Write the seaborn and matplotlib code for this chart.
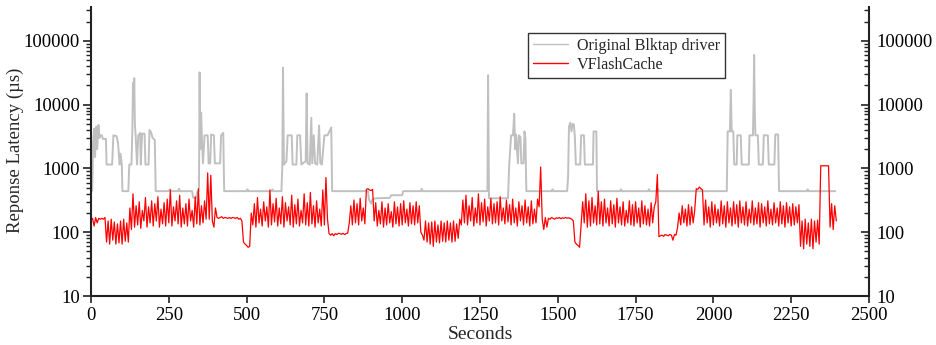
import numpy as np
import pandas as pd
import matplotlib
matplotlib.use("Agg")
import matplotlib.pyplot as plt
import seaborn as sns
from matplotlib.ticker import LogLocator, FixedLocator, NullFormatter, FixedFormatter

# ---------------- data ----------------
# Original Blktap driver: vertices (seconds, latency us)
blk_t = [0, 4, 7, 10, 13, 17, 20, 24, 27, 30, 35, 38, 48, 50, 68, 72, 82, 87, 92, 95, 99, 101,
         120, 123, 130, 133, 135, 137, 139, 141, 144, 148, 152, 158, 160, 164, 172, 175, 185, 188,
         193, 198, 205, 208, 250, 253, 260, 280, 283, 286, 325, 328, 338, 342, 347, 349, 351, 354,
         357, 360, 365, 375, 378, 383, 386, 395, 398, 415, 418, 425, 428, 500, 503, 506, 580, 583,
         586, 612, 615, 617, 620, 628, 632, 645, 648, 660, 663, 672, 676, 690, 693, 696, 703, 708,
         711, 716, 720, 727, 733, 737, 742, 750, 760, 765, 772, 775, 890, 893, 900, 905, 915, 960,
         965, 1000, 1003, 1060, 1063, 1066, 1270, 1274, 1276, 1279, 1340, 1344, 1350, 1356, 1360,
         1363, 1366, 1372, 1375, 1380, 1383, 1390, 1393, 1396, 1399, 1480, 1483, 1486, 1530, 1533,
         1536, 1540, 1544, 1548, 1552, 1555, 1558, 1572, 1575, 1584, 1587, 1613, 1615, 1624, 1626,
         1700, 1703, 1706, 1790, 1793, 1796, 1820, 1823, 1826, 2043, 2046, 2053, 2056, 2059, 2064,
         2067, 2075, 2077, 2088, 2091, 2100, 2114, 2116, 2127, 2129, 2131, 2133, 2135, 2143, 2146,
         2159, 2162, 2175, 2178, 2196, 2199, 2208, 2211, 2300, 2303, 2306, 2392]
blk_v = [440, 450, 2500, 4200, 1500, 4500, 2000, 4800, 3000, 3300, 3300, 2900, 2900, 1150, 1150,
         3300, 3200, 2500, 1150, 1700, 1150, 440, 440, 1150, 1150, 4000, 22000, 10000, 26000, 5000,
         3000, 1150, 3300, 3600, 1150, 3500, 3500, 1150, 1150, 4000, 3700, 3000, 2800, 440, 440,
         470, 440, 440, 480, 440, 440, 350, 340, 440, 440, 32000, 2000, 7500, 2500, 1200, 3300,
         3300, 1200, 1200, 3400, 3300, 1200, 1200, 3300, 3600, 440, 440, 470, 440, 440, 470, 440,
         440, 1150, 38000, 1150, 1300, 3300, 3300, 1150, 1150, 3300, 3300, 1150, 1300, 15000, 1200,
         1150, 6200, 1200, 3300, 1200, 1150, 4700, 1200, 1150, 3300, 3300, 3700, 4400, 440, 440,
         330, 280, 330, 340, 345, 380, 380, 440, 440, 480, 440, 440, 440, 29000, 340, 340, 1150,
         3300, 3300, 7200, 2000, 3400, 1200, 3300, 3100, 1200, 1200, 3800, 3000, 440, 440, 470,
         440, 440, 700, 4500, 5200, 3800, 5000, 4800, 3000, 1150, 1150, 3300, 3300, 1150, 1150,
         3800, 3800, 440, 440, 470, 440, 440, 470, 440, 440, 470, 440, 440, 3800, 3800, 17000,
         3800, 3800, 1150, 1150, 3300, 3300, 1150, 1150, 1150, 3300, 3300, 10000, 60000, 8000,
         3300, 3300, 1150, 1150, 3300, 3300, 1150, 1150, 3400, 3400, 440, 440, 470, 440, 440]

# VFlashCache: latency every 5 seconds from 0 to 2395 s
vfc_t = list(range(0, 2400, 5))
vfc_v = [
    155, 165, 125, 170, 140, 165, 160, 165, 160, 170,      # 0-45
    70, 150, 65, 160, 75, 145, 65, 135, 68, 150,           # 50-95
    65, 160, 72, 140, 70, 240, 110, 400, 120, 260,         # 100-145
    130, 300, 115, 220, 150, 350, 120, 250, 140, 310,      # 150-195
    125, 280, 150, 360, 120, 230, 135, 290, 125, 330,      # 200-245
    140, 460, 125, 250, 150, 310, 135, 380, 120, 240,      # 250-295
    135, 280, 125, 330, 150, 220, 120, 360, 135, 480,      # 300-345
    130, 260, 140, 310, 160, 850, 160, 780, 150, 120,      # 350-395
    240, 170, 165, 170, 175, 165, 170, 168, 165, 170,      # 400-445
    165, 170, 168, 165, 170, 160, 165, 150, 70, 65,        # 450-495
    62, 58, 60, 200, 130, 280, 120, 350, 140, 230,         # 500-545
    125, 300, 150, 250, 120, 460, 130, 280, 145, 340,      # 550-595
    125, 240, 135, 360, 120, 290, 150, 250, 130, 380,      # 600-645
    120, 270, 135, 330, 125, 220, 140, 400, 130, 290,      # 650-695
    125, 420, 135, 260, 120, 310, 140, 230, 125, 460,      # 700-745
    130, 720, 160, 95, 90, 95, 88, 95, 92, 96,             # 750-795
    95, 93, 96, 92, 95, 97, 140, 260, 130, 320,            # 800-845
    140, 280, 130, 340, 150, 240, 135, 470, 480, 460,      # 850-895
    450, 470, 150, 290, 125, 220, 135, 300, 120, 240,      # 900-945
    130, 280, 140, 210, 120, 300, 135, 250, 125, 280,      # 950-995
    130, 310, 140, 230, 125, 290, 135, 260, 130, 300,      # 1000-1045
    140, 260, 100, 90, 75, 150, 70, 140, 65, 145,          # 1050-1095
    60, 150, 70, 130, 68, 150, 72, 140, 70, 150,           # 1100-1145
    75, 140, 70, 150, 72, 135, 80, 160, 130, 320,          # 1150-1195
    140, 380, 130, 260, 150, 350, 125, 240, 140, 400,      # 1200-1245
    130, 290, 145, 330, 125, 250, 150, 340, 135, 280,      # 1250-1295
    140, 300, 130, 360, 150, 240, 135, 320, 145, 270,      # 1300-1345
    130, 330, 140, 240, 125, 300, 150, 260, 130, 320,      # 1350-1395
    140, 250, 125, 310, 135, 230, 140, 330, 250, 1050,     # 1400-1445
    160, 110, 170, 120, 165, 160, 170, 165, 160, 168,      # 1450-1495
    165, 170, 163, 168, 165, 170, 166, 168, 165, 160,      # 1500-1545
    150, 70, 65, 62, 58, 130, 300, 140, 400, 120,          # 1550-1595
    310, 125, 350, 140, 260, 130, 440, 135, 300, 125,      # 1600-1645
    330, 140, 240, 125, 310, 135, 270, 120, 340, 140,      # 1650-1695
    250, 130, 300, 125, 220, 140, 310, 130, 270, 125,      # 1700-1745
    300, 140, 240, 120, 310, 135, 260, 130, 230, 125,      # 1750-1795
    290, 140, 250, 300, 800, 85, 88, 90, 86, 92,           # 1800-1845
    90, 88, 92, 90, 75, 92, 90, 120, 200, 130,             # 1850-1895
    260, 140, 230, 125, 270, 130, 250, 140, 220, 480,      # 1900-1945
    470, 510, 480, 460, 130, 320, 140, 250, 120, 300,      # 1950-1995
    130, 270, 140, 230, 125, 310, 135, 260, 120, 300,      # 2000-2045
    140, 240, 125, 300, 135, 270, 120, 310, 140, 250,      # 2050-2095
    130, 300, 125, 230, 140, 310, 130, 240, 135, 290,      # 2100-2145
    120, 280, 140, 250, 125, 310, 135, 230, 130, 290,      # 2150-2195
    140, 240, 125, 300, 135, 260, 120, 290, 140, 250,      # 2200-2245
    125, 280, 130, 250, 140, 270, 60, 150, 55, 160,        # 2250-2295
    65, 140, 60, 160, 55, 150, 70, 155, 65, 1100,          # 2300-2345
    1100, 1100, 1100, 1100, 1100, 120, 280, 110, 260, 150, # 2350-2395
]

series_names = ["Original Blktap driver", "VFlashCache"]
series_colors = ["#c0c0c0", "#ff0000"]
y_ticks = [10, 100, 1000, 10000, 100000]
y_tick_labels = ["10", "100", "1000", "10000", "100000"]
x_ticks = [0, 250, 500, 750, 1000, 1250, 1500, 1750, 2000, 2250, 2500]

# ---------------- plotting ----------------
sns.set_style("ticks")
plt.rcParams["font.family"] = ["Liberation Serif", "DejaVu Serif"]

df = pd.concat([
    pd.DataFrame({"Seconds": blk_t, "Latency": blk_v, "Series": series_names[0]}),
    pd.DataFrame({"Seconds": vfc_t, "Latency": vfc_v, "Series": series_names[1]}),
], ignore_index=True)

fig = plt.figure(figsize=(9.37, 3.45), dpi=100)
ax = fig.add_axes([0.0971, 0.142, 0.8303, 0.838])

sns.lineplot(data=df, x="Seconds", y="Latency", hue="Series",
             palette=dict(zip(series_names, series_colors)),
             estimator=None, sort=False, linewidth=1.0, ax=ax)
ax.lines[0].set_linewidth(1.4)
ax.lines[1].set_linewidth(0.9)

ax.set_yscale("log")
ax.set_ylim(10, 3.4e5)
ax.set_xlim(0, 2500)
ax.set_xticks(x_ticks)
ax.set_xticklabels([str(v) for v in x_ticks], fontsize=13.5)
ax.yaxis.set_major_locator(FixedLocator(y_ticks))
ax.yaxis.set_major_formatter(FixedFormatter(y_tick_labels))
ax.yaxis.set_minor_locator(LogLocator(base=10, subs=np.arange(2, 10)))
ax.yaxis.set_minor_formatter(NullFormatter())
ax.tick_params(axis="y", which="major", labelsize=13.5, length=6, width=1.2, direction="out",
               pad=2, colors="#222222", labelcolor="black")
ax.tick_params(axis="y", which="minor", length=3.5, width=1.0, direction="out", colors="#222222")
ax.tick_params(axis="x", which="major", length=5, width=1.2, direction="out", pad=3,
               colors="#222222", labelcolor="black")

ax.set_xlabel("Seconds", fontsize=14, labelpad=1)
ax.set_ylabel("")
fig.text(15 / 937, 1 - 150 / 345, "Reponse Latency (\u00b5s)", rotation=90,
         ha="center", va="center", fontsize=13.5)

for side in ["left", "bottom", "right"]:
    ax.spines[side].set_linewidth(1.5)
    ax.spines[side].set_color("#222222")
ax.spines["top"].set_visible(False)
ax.spines["right"].set_visible(True)

# mirrored right axis
ax2 = ax.twinx()
ax2.set_yscale("log")
ax2.set_ylim(ax.get_ylim())
ax2.yaxis.set_major_locator(FixedLocator(y_ticks))
ax2.yaxis.set_major_formatter(FixedFormatter(y_tick_labels))
ax2.yaxis.set_minor_locator(LogLocator(base=10, subs=np.arange(2, 10)))
ax2.yaxis.set_minor_formatter(NullFormatter())
ax2.tick_params(axis="y", which="major", labelsize=13.5, length=6, width=1.2, direction="in",
                colors="#222222", labelcolor="black", pad=5.5)
ax2.tick_params(axis="y", which="minor", length=3.5, width=1.0, direction="in", colors="#222222")
for s in ax2.spines.values():
    s.set_visible(False)

leg = ax.legend(loc="upper left", bbox_to_anchor=(0.562, 0.910), borderaxespad=0,
                fontsize=11.6, frameon=True, fancybox=False, edgecolor="black",
                handlelength=2.2, handletextpad=0.5, borderpad=0.3, labelspacing=0.2)
leg.get_frame().set_linewidth(1.0)
for h in leg.get_lines():
    h.set_linewidth(1.0)

fig.savefig("out.png", dpi=100)
